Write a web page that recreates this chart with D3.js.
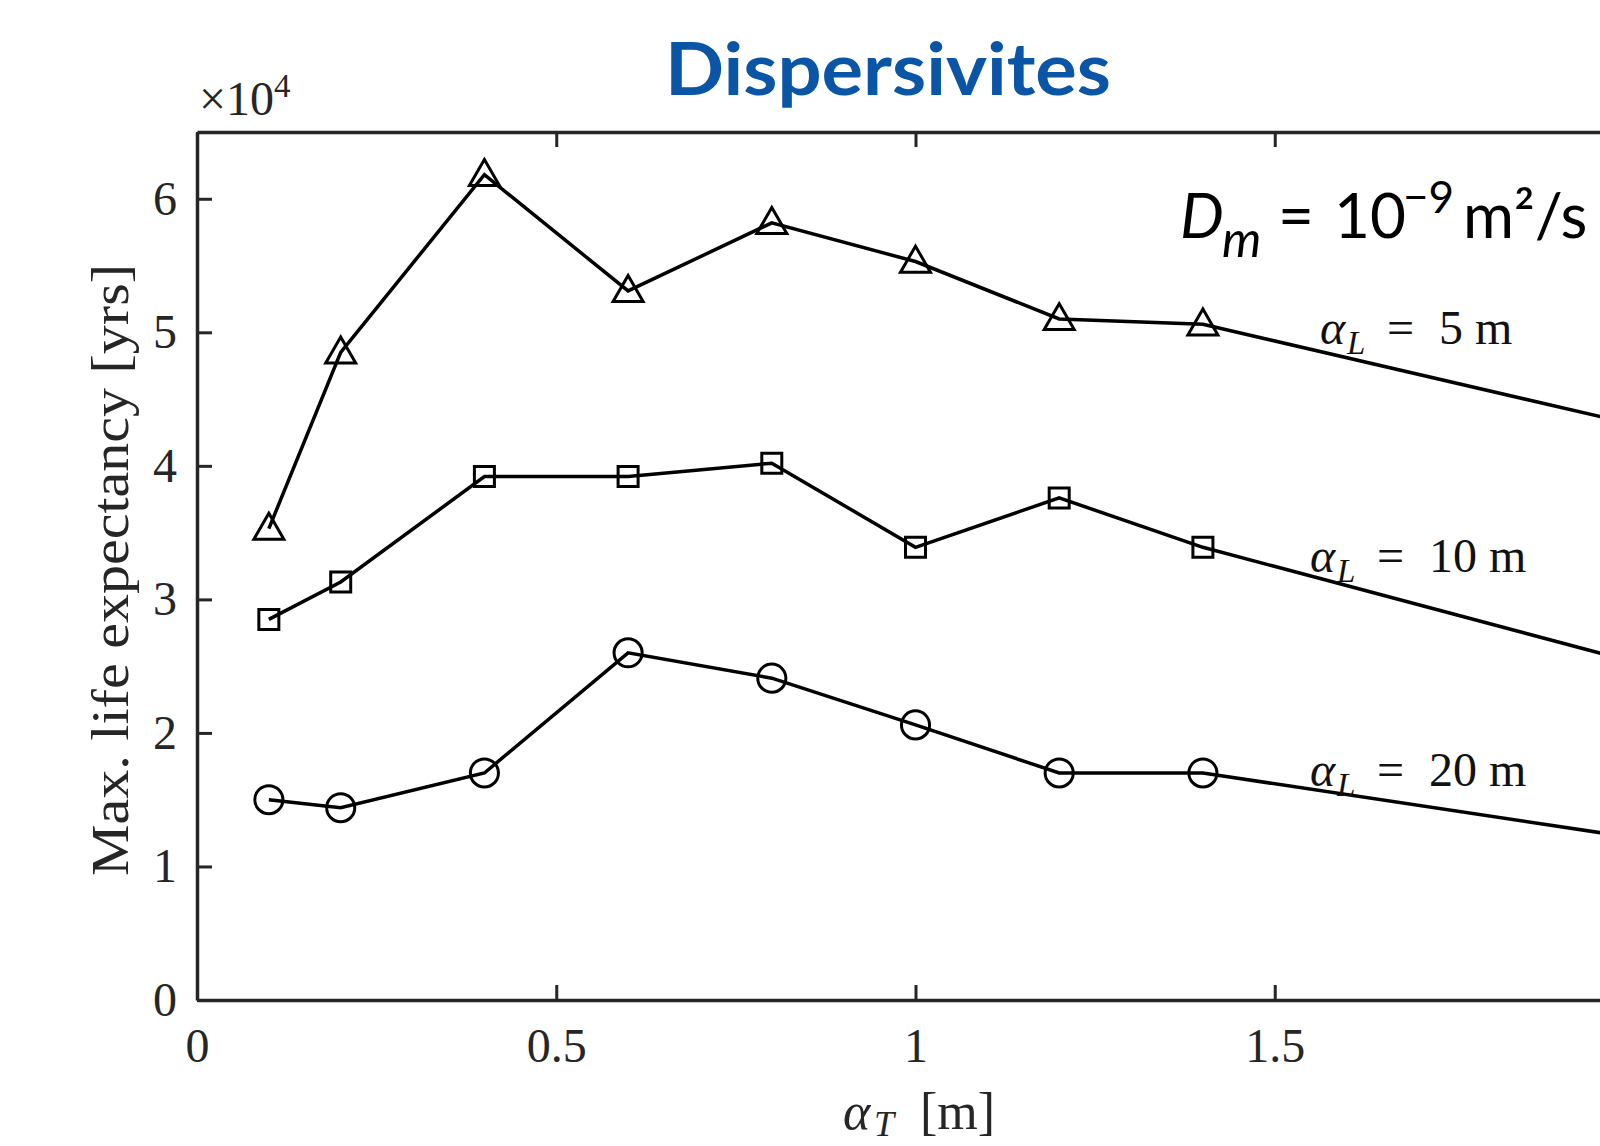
<!DOCTYPE html>
<html>
<head>
<meta charset="utf-8">
<script src="https://cdn.jsdelivr.net/npm/d3@7"></script>
<style>
  html, body { margin: 0; padding: 0; background: #fff; overflow: hidden; }
  svg { display: block; }
</style>
</head>
<body>
<script>
// transverse dispersivity [m]
var alphaT = [0.1, 0.2, 0.4, 0.6, 0.8, 1.0, 1.2, 1.4, 2.0];
// max life expectancy, in units of 1e4 yrs
var life5 = [3.53, 4.85, 6.18, 5.31, 5.82, 5.53, 5.10, 5.06, 4.31];
var life10 = [2.85, 3.13, 3.92, 3.92, 4.02, 3.39, 3.76, 3.39, 2.53];
var life20 = [1.50, 1.44, 1.70, 2.60, 2.41, 2.06, 1.70, 1.70, 1.215];
var xTicks = [0, 0.5, 1, 1.5, 2];
var yTicks = [0, 1, 2, 3, 4, 5, 6];

var W = 1600, H = 1146;
var margin = ({ top: 132, left: 197, bottom: 146 });
var plotW = 1437; // axis runs past the right edge of the picture

var svg = d3.select("body").append("svg")
  .attr("width", W).attr("height", H);

var x = d3.scaleLinear().domain([0, 2]).range([margin.left, margin.left + plotW]);
var y = d3.scaleLinear().domain([0, 6.5]).range([H - margin.bottom, margin.top]);

var serif = "'Liberation Serif', 'DejaVu Serif', serif";
var sans = "Lato, 'Open Sans', sans-serif";
var axisColor = "#262626";

// axes (ticks pointing inward, MATLAB style)
var gx = svg.append("g").attr("transform", "translate(0," + y(0) + ")")
  .call(d3.axisBottom(x).tickValues(xTicks.filter(function(d) { return d < 2; }))
    .tickFormat(d3.format("")).tickSizeInner(-15).tickSizeOuter(0).tickPadding(28));
var gxTop = svg.append("g").attr("transform", "translate(0," + y(6.5) + ")")
  .call(d3.axisTop(x).tickValues(xTicks).tickFormat("").tickSizeInner(-15).tickSizeOuter(0));
var gy = svg.append("g").attr("transform", "translate(" + x(0) + ",0)")
  .call(d3.axisLeft(y).tickValues(yTicks).tickFormat(d3.format("d")).tickSizeInner(-15).tickSizeOuter(0).tickPadding(20));
var gyRight = svg.append("g").attr("transform", "translate(" + x(2) + ",0)")
  .call(d3.axisRight(y).tickValues(yTicks).tickFormat("").tickSizeInner(-15).tickSizeOuter(0));

[gx, gxTop, gy, gyRight].forEach(function(g) {
  g.select(".domain").attr("stroke", axisColor).attr("stroke-width", 3.5);
  g.selectAll(".tick line").attr("stroke", axisColor).attr("stroke-width", 3);
  g.selectAll(".tick text").attr("fill", "#262626").style("font-family", serif).style("font-size", "48px");
});

// series
var series = [
  { name: "5", values: life5, marker: "triangle" },
  { name: "10", values: life10, marker: "square" },
  { name: "20", values: life20, marker: "circle" }
];

var line = d3.line()
  .x(function(d) { return x(d[0]); })
  .y(function(d) { return y(d[1]); });

series.forEach(function(s) {
  var pts = alphaT.map(function(a, i) { return [a, s.values[i]]; });
  svg.append("path")
    .attr("d", line(pts))
    .attr("fill", "none")
    .attr("stroke", "#000")
    .attr("stroke-width", 3.5);

  var sym;
  if (s.marker === "triangle") sym = d3.symbol().type(d3.symbolTriangle).size(390);
  else if (s.marker === "square") sym = d3.symbol().type(d3.symbolSquare).size(400);
  else sym = d3.symbol().type(d3.symbolCircle).size(620);

  svg.append("g").selectAll("path")
    .data(pts.slice(0, 8))
    .join("path")
    .attr("transform", function(d) {
      var dy = s.marker === "triangle" ? 2 : 0;
      return "translate(" + x(d[0]) + "," + (y(d[1]) + dy) + ")";
    })
    .attr("d", sym)
    .attr("fill", "none")
    .attr("stroke", "#000")
    .attr("stroke-width", 3);
});

// annotations alpha_L = ...
var labels = [
  { txt: "5", x: 1320, y: 344 },
  { txt: "10", x: 1310, y: 572 },
  { txt: "20", x: 1310, y: 786 }
];
labels.forEach(function(l) {
  var t = svg.append("text")
    .attr("y", l.y)
    .style("font-family", serif).style("font-size", "48px").attr("fill", "#111");
  t.append("tspan").attr("x", l.x).style("font-style", "italic").text("α");
  t.append("tspan").attr("x", l.x + 27).attr("dy", 10).style("font-style", "italic").style("font-size", "33px").text("L");
  t.append("tspan").attr("x", l.x + 67).attr("dy", -10).text("=");
  t.append("tspan").attr("x", l.x + 119).text(l.txt + " m");
});

// multiplier
var mult = svg.append("text").attr("x", 199).attr("y", 115)
  .style("font-family", serif).style("font-size", "48px").attr("fill", "#262626");
mult.append("tspan").text("×10");
mult.append("tspan").attr("dy", -18).style("font-size", "33px").text("4");

// axis titles
var xl = svg.append("text").attr("y", 1129)
  .style("font-family", serif).style("font-size", "52px").attr("fill", "#262626");
xl.append("tspan").attr("x", 843).style("font-style", "italic").text("α");
xl.append("tspan").attr("x", 874).attr("dy", 7).style("font-style", "italic").style("font-size", "36px").text("T");
xl.append("tspan").attr("x", 920).attr("dy", -7).text("[m]");

svg.append("text")
  .attr("transform", "translate(128," + ((margin.top + y(0)) / 2 + 4) + ") rotate(-90)")
  .attr("text-anchor", "middle")
  .attr("textLength", 612).attr("lengthAdjust", "spacingAndGlyphs")
  .style("font-family", serif).style("font-size", "52px").attr("fill", "#262626")
  .text("Max. life expectancy [yrs]");

// title
svg.append("text").attr("x", 888).attr("y", 95).attr("text-anchor", "middle")
  .style("font-family", sans).style("font-weight", "bold")
  .style("font-size", "72px").attr("fill", "#0a55a5")
  .attr("textLength", 446).attr("lengthAdjust", "spacingAndGlyphs")
  .text("Dispersivites");

// D_m annotation
var dm = svg.append("text").attr("y", 238)
  .style("font-family", sans).style("font-size", "62px").attr("fill", "#000");
dm.append("tspan").attr("x", 1180).style("font-style", "italic").text("D");
dm.append("tspan").attr("x", 1222).attr("dy", 19).style("font-style", "italic").style("font-size", "50px").text("m");
dm.append("tspan").attr("x", 1278).attr("dy", -19).text("=");
dm.append("tspan").attr("x", 1334).text("10");
dm.append("tspan").attr("x", 1403).attr("dy", -25).style("font-size", "44px").text("−9");
dm.append("tspan").attr("x", 1463).attr("dy", 25).text("m²/s");
</script>
</body>
</html>
